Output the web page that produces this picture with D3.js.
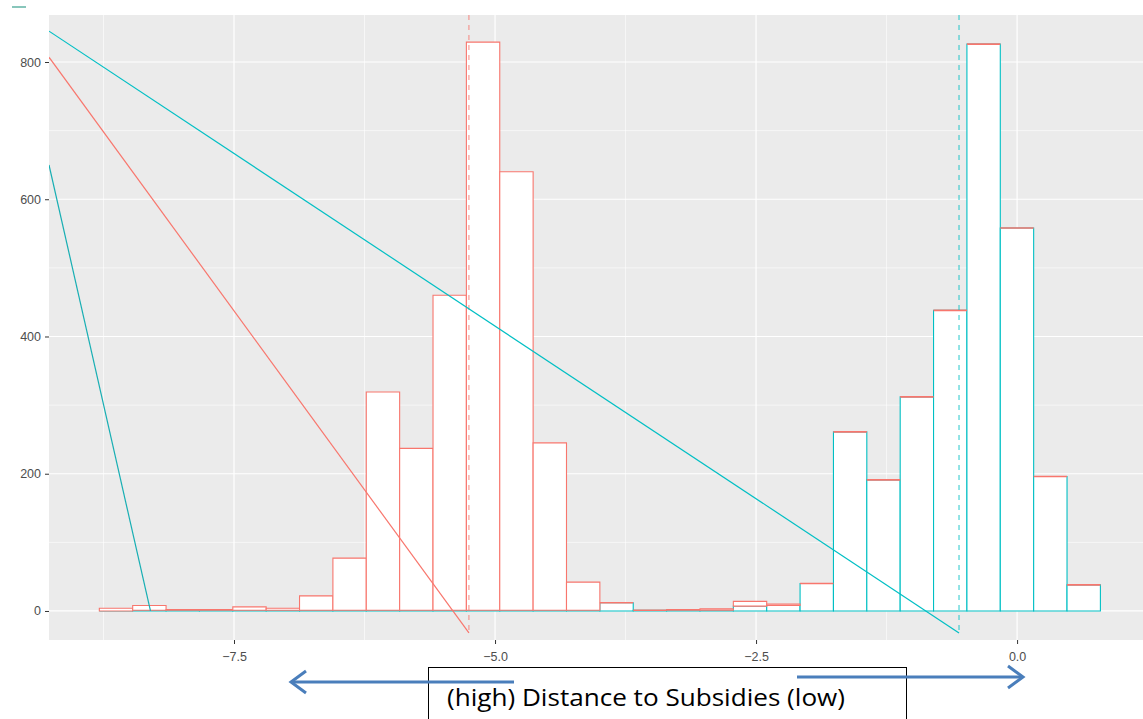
<!DOCTYPE html>
<html>
<head>
<meta charset="utf-8">
<script src="https://cdn.jsdelivr.net/npm/d3@7"></script>
<style>
  body { margin: 0; background: #fff; }
  svg { display: block; font-family: "Liberation Sans", Arial, sans-serif; }
</style>
</head>
<body>
<div id="chart"></div>
<script>
// histogram bins (distance), 30 bins
const binStart = -8.79;
const binWidth = 0.3196;
// stacked counts: cyan group at the bottom, red group on top
const cyanCounts = [0, 1, 1, 1, 1, 1, 1, 1, 1, 1, 1, 1, 1, 1, 1, 12, 1, 1, 1, 7, 8, 40, 261, 191, 312, 438, 826, 558, 196, 38];
const redCounts = [4, 7, 1, 1, 5, 3, 21, 76, 318, 236, 459, 828, 639, 244, 41, 0, 0, 1, 2, 7, 2, 0, 0, 0, 0, 0, 0, 0, 0, 0];

// group means (dashed verticals)
const meanLines = [
  { x: -5.25, color: '#F8766D' },
  { x: -0.556, color: '#00BFC4' }
];

// stray diagonal segments
const segments = [
  { x1: -9.272, y1: 845, x2: -0.556, y2: -32, color: '#00BFC4' },
  { x1: -9.272, y1: 807, x2: -5.25, y2: -32, color: '#F8766D' },
  { x1: -9.272, y1: 650, x2: -8.30, y2: 0, color: '#17AEB3' }
];

const xTicks = [-7.5, -5.0, -2.5, 0.0];
const xMinor = [-8.75, -6.25, -3.75, -1.25];
const yTicks = [0, 200, 400, 600, 800];
const yMinor = [100, 300, 500, 700];

const W = 1143, H = 719;
const panel = { left: 49, right: 1143, top: 15, bottom: 640 };

const svg = d3.select('#chart').append('svg')
  .attr('width', W).attr('height', H);

const x = d3.scaleLinear().domain([-9.272, 1.206]).range([panel.left, panel.right]);
const y = d3.scaleLinear().domain([-42.3, 868.5]).range([panel.bottom, panel.top]);

svg.append('defs').append('clipPath').attr('id', 'panel-clip')
  .append('rect')
  .attr('x', panel.left).attr('y', panel.top)
  .attr('width', panel.right - panel.left).attr('height', panel.bottom - panel.top);

svg.append('rect')
  .attr('x', panel.left).attr('y', panel.top)
  .attr('width', panel.right - panel.left).attr('height', panel.bottom - panel.top)
  .attr('fill', '#EBEBEB');

const grid = svg.append('g').attr('clip-path', 'url(#panel-clip)');

grid.selectAll('line.xminor').data(xMinor).join('line')
  .attr('x1', d => x(d)).attr('x2', d => x(d))
  .attr('y1', panel.top).attr('y2', panel.bottom)
  .attr('stroke', '#fff').attr('stroke-width', 0.6);
grid.selectAll('line.yminor').data(yMinor).join('line')
  .attr('y1', d => y(d)).attr('y2', d => y(d))
  .attr('x1', panel.left).attr('x2', panel.right)
  .attr('stroke', '#fff').attr('stroke-width', 0.6);
grid.selectAll('line.xmajor').data(xTicks).join('line')
  .attr('x1', d => x(d)).attr('x2', d => x(d))
  .attr('y1', panel.top).attr('y2', panel.bottom)
  .attr('stroke', '#fff').attr('stroke-width', 1.2);
grid.selectAll('line.ymajor').data(yTicks).join('line')
  .attr('y1', d => y(d)).attr('y2', d => y(d))
  .attr('x1', panel.left).attr('x2', panel.right)
  .attr('stroke', '#fff').attr('stroke-width', 1.2);

const bins = cyanCounts.map((c, i) => ({
  x0: binStart + i * binWidth,
  x1: binStart + (i + 1) * binWidth,
  cyan: c,
  red: redCounts[i]
}));

const plot = svg.append('g').attr('clip-path', 'url(#panel-clip)');

function barPath(x0, x1, lo, hi) {
  const p = d3.path();
  p.moveTo(x(x0), y(lo));
  p.lineTo(x(x0), y(hi));
  p.lineTo(x(x1), y(hi));
  p.lineTo(x(x1), y(lo));
  p.closePath();
  return p.toString();
}

plot.selectAll('path.cyan').data(bins).join('path')
  .attr('class', 'cyan')
  .attr('d', d => barPath(d.x0, d.x1, 0, d.cyan))
  .attr('fill', '#fff').attr('stroke', '#00BFC4').attr('stroke-width', 1.1);

plot.selectAll('path.red').data(bins).join('path')
  .attr('class', 'red')
  .attr('d', d => barPath(d.x0, d.x1, d.cyan, d.cyan + d.red))
  .attr('fill', d => d.red > 0 ? '#fff' : 'none')
  .attr('stroke', '#F8766D').attr('stroke-width', d => d.red > 0 ? 1.1 : 1.6);

plot.selectAll('line.mean').data(meanLines).join('line')
  .attr('x1', d => x(d.x)).attr('x2', d => x(d.x))
  .attr('y1', panel.top).attr('y2', y(-32))
  .attr('stroke', d => d.color).attr('stroke-opacity', 0.85)
  .attr('stroke-width', 1).attr('stroke-dasharray', '5,5');

plot.selectAll('line.seg').data(segments).join('line')
  .attr('x1', d => x(d.x1)).attr('y1', d => y(d.y1))
  .attr('x2', d => x(d.x2)).attr('y2', d => y(d.y2))
  .attr('stroke', d => d.color).attr('stroke-width', 1.2);

// axes
const xAxis = svg.append('g')
  .attr('transform', `translate(0,${panel.bottom})`)
  .call(d3.axisBottom(x).tickValues(xTicks).tickFormat(d3.format('.1f')).tickSize(4).tickPadding(8));
const yAxis = svg.append('g')
  .attr('transform', `translate(${panel.left},0)`)
  .call(d3.axisLeft(y).tickValues(yTicks).tickSize(4).tickPadding(4));

[xAxis, yAxis].forEach(a => {
  a.select('.domain').remove();
  a.selectAll('line').attr('stroke', '#333').attr('stroke-width', 1);
  a.selectAll('text').attr('fill', '#4D4D4D').attr('font-size', 12.5)
    .attr('font-family', '"Liberation Sans", Arial, sans-serif');
});

// clipped y title remnant
svg.append('clipPath').attr('id', 'ytitle-clip')
  .append('rect').attr('x', 11).attr('y', 290).attr('width', 2.5).attr('height', 80);
svg.append('text')
  .attr('clip-path', 'url(#ytitle-clip)')
  .attr('transform', 'translate(16,326) rotate(-90)')
  .attr('text-anchor', 'middle')
  .attr('font-size', 15).attr('fill', '#000')
  .text('count');

// small legend remnant at top-left
svg.append('line')
  .attr('x1', 12).attr('x2', 26).attr('y1', 7).attr('y2', 7)
  .attr('stroke', '#3aa08f').attr('stroke-width', 1.5).attr('stroke-opacity', 0.8);

// annotation box with arrows
svg.append('rect')
  .attr('x', 428.5).attr('y', 667.5).attr('width', 478).attr('height', 60)
  .attr('fill', '#fff').attr('stroke', '#000').attr('stroke-width', 1);

svg.append('text')
  .attr('x', 447).attr('y', 706)
  .attr('font-family', '"Open Sans", "Noto Sans", sans-serif')
  .attr('font-size', 23).attr('fill', '#000')
  .attr('textLength', 398).attr('lengthAdjust', 'spacingAndGlyphs')
  .text('(high) Distance to Subsidies (low)');

const arrowColor = '#4A7EBB';
const arrows = svg.append('g').attr('stroke', arrowColor).attr('stroke-width', 3)
  .attr('fill', 'none').attr('stroke-linecap', 'butt');
arrows.append('line').attr('x1', 514).attr('y1', 682).attr('x2', 292).attr('y2', 682);
arrows.append('polyline').attr('points', '306,671 291,682 306,693');
arrows.append('line').attr('x1', 797).attr('y1', 677).attr('x2', 1022).attr('y2', 677);
arrows.append('polyline').attr('points', '1008,666 1023,677 1008,688');
</script>
</body>
</html>
